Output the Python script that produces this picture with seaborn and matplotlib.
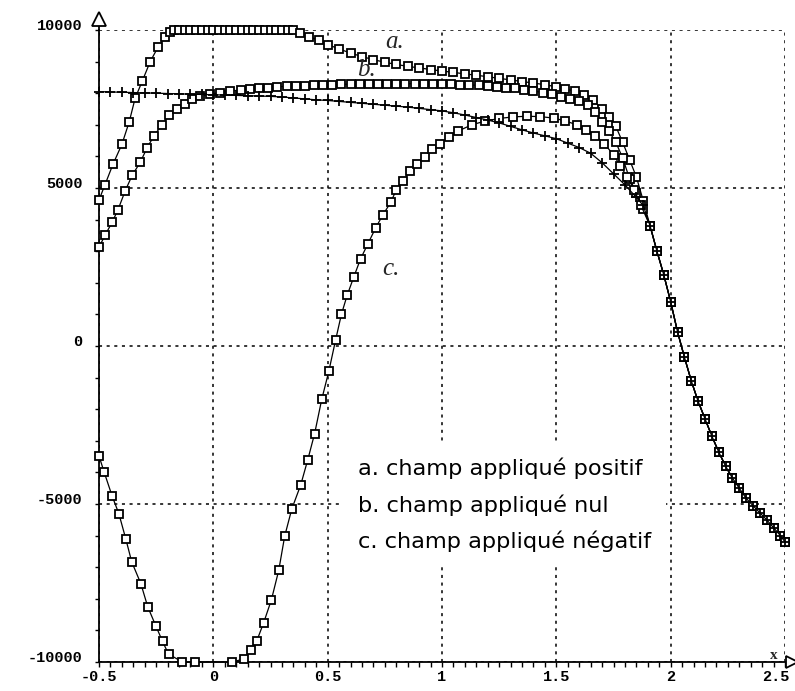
import matplotlib
matplotlib.use("Agg")
import matplotlib.pyplot as plt
import matplotlib.transforms as mtransforms
from matplotlib.patches import Rectangle
from matplotlib.ticker import MultipleLocator
import seaborn as sns

# values (x in reduced units, y in the plotted quantity)

# curve a : champ appliqué positif
xa = [-0.500, -0.474, -0.439, -0.400, -0.368, -0.342, -0.311, -0.276, -0.241, -0.210, -0.190,
      -0.170, -0.150, -0.125, -0.100, -0.075, -0.050, -0.025, 0.000, 0.025, 0.050, 0.075,
      0.100, 0.125, 0.150, 0.175, 0.200, 0.225, 0.250, 0.275, 0.300, 0.325, 0.350,
      0.38, 0.42, 0.46, 0.50, 0.55, 0.60, 0.65, 0.70, 0.75, 0.80, 0.85, 0.90, 0.95, 1.00,
      1.05, 1.10, 1.15, 1.20, 1.25, 1.30, 1.35, 1.40, 1.45, 1.50, 1.54, 1.58, 1.62, 1.66,
      1.70, 1.73, 1.76, 1.79, 1.82, 1.85, 1.88]
ya = [4620, 5100, 5750, 6380, 7090, 7840, 8380, 9000, 9470, 9780, 9940,
      10000, 10000, 10000, 10000, 10000, 10000, 10000, 10000, 10000, 10000, 10000,
      10000, 10000, 10000, 10000, 10000, 10000, 10000, 10000, 10000, 10000, 10000,
      9900, 9790, 9670, 9540, 9400, 9270, 9160, 9060, 8980, 8910, 8850, 8800, 8750, 8700,
      8660, 8610, 8570, 8520, 8470, 8420, 8370, 8320, 8270, 8200, 8140, 8060, 7950, 7780,
      7500, 7250, 6950, 6450, 5900, 5350, 4600]

# curve b : champ appliqué nul
xb = [-0.500, -0.474, -0.443, -0.417, -0.386, -0.355, -0.320, -0.289, -0.259, -0.224,
      -0.193, -0.158, -0.123, -0.092, -0.057, -0.013,
      0.03, 0.075, 0.12, 0.16, 0.20, 0.24, 0.28, 0.32, 0.36, 0.40, 0.44, 0.48, 0.52,
      0.56, 0.60, 0.64, 0.68, 0.72, 0.76, 0.80, 0.84, 0.88, 0.92, 0.96, 1.00, 1.04,
      1.08, 1.12, 1.16, 1.20, 1.24, 1.28, 1.32, 1.36, 1.40, 1.44, 1.48, 1.52, 1.56,
      1.60, 1.64, 1.67, 1.70, 1.73, 1.76, 1.79, 1.82, 1.85, 1.88]
yb = [3125, 3500, 3910, 4310, 4900, 5400, 5810, 6280, 6660, 7000,
      7310, 7500, 7660, 7810, 7910, 7970,
      8020, 8070, 8100, 8130, 8150, 8180, 8200, 8220, 8230, 8240, 8250, 8260, 8270,
      8280, 8290, 8290, 8300, 8300, 8300, 8300, 8300, 8300, 8300, 8290, 8290, 8280,
      8270, 8260, 8250, 8230, 8210, 8180, 8150, 8110, 8070, 8020, 7960, 7890, 7820,
      7740, 7640, 7400, 7100, 6800, 6450, 5950, 5300, 4850, 4350]

# curve c : champ appliqué négatif
xc = [-0.500, -0.478, -0.443, -0.413, -0.383, -0.357, -0.317, -0.287, -0.252, -0.222,
      -0.196, -0.135, -0.078, 0.083, 0.135, 0.165, 0.190, 0.220, 0.254, 0.286,
      0.312, 0.343, 0.382, 0.413, 0.443, 0.474, 0.505, 0.535, 0.560, 0.585,
      0.614, 0.644, 0.675, 0.710, 0.740, 0.776, 0.800, 0.830, 0.860, 0.890,
      0.925, 0.956, 0.990, 1.03, 1.07, 1.13, 1.19, 1.25, 1.31, 1.37,
      1.43, 1.49, 1.54, 1.59, 1.63, 1.67, 1.71, 1.75, 1.78, 1.81, 1.84, 1.87]
yc = [-3480, -3980, -4740, -5310, -6100, -6830, -7520, -8250, -8850, -9350,
      -9750, -10000, -10000, -10000, -9900, -9630, -9330, -8760, -8030, -7100,
      -6020, -5160, -4400, -3600, -2770, -1690, -800, 200, 1000, 1600,
      2180, 2760, 3220, 3740, 4130, 4550, 4940, 5230, 5530, 5750,
      5980, 6240, 6400, 6600, 6800, 7000, 7120, 7200, 7250, 7270,
      7260, 7210, 7120, 7000, 6850, 6650, 6400, 6050, 5700, 5350, 4950, 4450]

# curve with + markers (unlabelled)
xd = [-0.50, -0.45, -0.40, -0.35, -0.30, -0.25, -0.20, -0.15, -0.10, -0.05, 0.00,
      0.05, 0.10, 0.15, 0.20, 0.25, 0.30, 0.35, 0.40, 0.45, 0.50, 0.55, 0.60, 0.65,
      0.70, 0.75, 0.80, 0.85, 0.90, 0.95, 1.00, 1.05, 1.10, 1.15, 1.20, 1.25, 1.30,
      1.35, 1.40, 1.45, 1.50, 1.55, 1.60, 1.65, 1.70, 1.75, 1.80, 1.85, 1.88]
yd = [8050, 8040, 8030, 8020, 8010, 8000, 7990, 7980, 7970, 7960, 7950,
      7940, 7930, 7920, 7910, 7900, 7880, 7850, 7820, 7790, 7770, 7740, 7710, 7680,
      7650, 7620, 7590, 7560, 7520, 7480, 7440, 7380, 7310, 7230, 7150, 7060, 6950,
      6840, 6740, 6650, 6560, 6420, 6280, 6100, 5800, 5450, 5100, 4700, 4450]

# common tail where all the curves merge
x_tail = [1.91, 1.94, 1.97, 2.00, 2.03, 2.06, 2.09, 2.12, 2.15, 2.18, 2.21, 2.24,
          2.27, 2.30, 2.33, 2.36, 2.39, 2.42, 2.45, 2.48, 2.50]
y_tail = [3800, 3000, 2250, 1400, 450, -350, -1100, -1750, -2300, -2850, -3350, -3800,
          -4180, -4500, -4820, -5050, -5280, -5500, -5750, -6000, -6200]

xtick_vals = [-0.5, 0, 0.5, 1, 1.5, 2, 2.5]
xtick_text = ["-0.5", "0", "0.5", "1", "1.5", "2", "2.5"]
ytick_vals = [-10000, -5000, 0, 5000, 10000]
ytick_text = ["-10000", "-5000", "0", "5000", "10000"]

legend_lines = ["a. champ appliqué positif",
                "b. champ appliqué nul",
                "c. champ appliqué négatif"]


sns.set_theme(style="white")
plt.rcParams['font.family'] = ['DejaVu Sans']

fig = plt.figure(figsize=(7.95, 6.91), dpi=100)
fig.patch.set_facecolor("white")
ax = fig.add_axes([99 / 795, 1 - 662 / 691, (785 - 99) / 795, (662 - 30) / 691])

square_kw = dict(color="black", lw=0.9, marker="s", ms=5.2, mfc="white",
                 mec="black", mew=1.3, sort=False, legend=False, clip_on=False, zorder=3)

for xs, ys in [(xa, ya), (xb, yb), (xc, yc)]:
    assert len(xs) == len(ys)
    sns.lineplot(x=xs + x_tail, y=ys + y_tail, ax=ax, **square_kw)

assert len(xd) == len(yd)
sns.lineplot(x=xd + x_tail, y=yd + y_tail, ax=ax, color="black", lw=0.9, marker="+",
             ms=6.5, mec="black", mew=1.3, sort=False, legend=False, clip_on=False, zorder=3)

ax.set_xlim(-0.5, 2.5)
ax.set_ylim(-10000, 10000)
ax.set_xticks(xtick_vals)
ax.set_xticklabels(xtick_text)
ax.set_yticks(ytick_vals)
ax.set_yticklabels(ytick_text)
ax.xaxis.set_minor_locator(MultipleLocator(0.05))
ax.yaxis.set_minor_locator(MultipleLocator(1000))

ax.set_axisbelow(True)
ax.grid(True, which="major", color="black", linestyle=(0, (2, 3)), linewidth=1.1)

for side in ["top", "right"]:
    ax.spines[side].set_visible(False)
for side in ["left", "bottom"]:
    ax.spines[side].set_color("black")
    ax.spines[side].set_linewidth(1.3)

ax.tick_params(axis="x", which="both", direction="out", length=3.8, width=1.0,
               color="black", pad=2, bottom=True)
ax.tick_params(axis="y", which="both", direction="out", length=3.0, width=1.0,
               color="black", pad=9, left=True)
tick_font = dict(family="Liberation Mono", weight="bold", size=11)
for lab in ax.get_xticklabels() + ax.get_yticklabels():
    lab.set_fontfamily(tick_font["family"])
    lab.set_fontweight(tick_font["weight"])
    lab.set_fontsize(tick_font["size"])
    lab.set_color("black")
shift_up = mtransforms.ScaledTranslation(0, 6 / 100, fig.dpi_scale_trans)
for lab in ax.get_yticklabels():
    lab.set_transform(lab.get_transform() + shift_up)
# the last x label sits at the right edge of the page: pull it in a little
last_lab = ax.get_xticklabels()[-1]
last_lab.set_transform(last_lab.get_transform()
                       + mtransforms.ScaledTranslation(-9 / 100, 0, fig.dpi_scale_trans))

# axis arrows
ax.plot([-0.5, -0.5], [10000, 10150], color="black", lw=1.3, clip_on=False)
ax.plot([-0.5], [10360], marker="^", ms=10, mfc="white", mec="black", mew=1.3, clip_on=False)
ax.plot([2.53], [-10000], marker=">", ms=9, mfc="white", mec="black", mew=1.3, clip_on=False)
ax.text(2.452, -9780, "x", family="Liberation Serif", weight="bold", fontsize=11,
        ha="center", va="center")

# hand-written curve labels
for lab, (tx, ty) in zip(["a.", "b.", "c."], [(0.75, 9620), (0.63, 8740), (0.74, 2430)]):
    ax.text(tx, ty, lab, family="Liberation Serif", style="italic", fontsize=18,
            ha="left", va="center", zorder=4)

# text legend on a white patch hiding the grid
ax.add_patch(Rectangle((0.561, -6890), 1.42, 3790, facecolor="white", edgecolor="none", zorder=1))
for line, ty in zip(legend_lines, [-3855, -5025, -6190]):
    ax.text(0.631, ty, line, family="DejaVu Sans", fontsize=16.2, color="black",
            ha="left", va="center", zorder=4)

fig.savefig("out.png", dpi=100, facecolor="white")
